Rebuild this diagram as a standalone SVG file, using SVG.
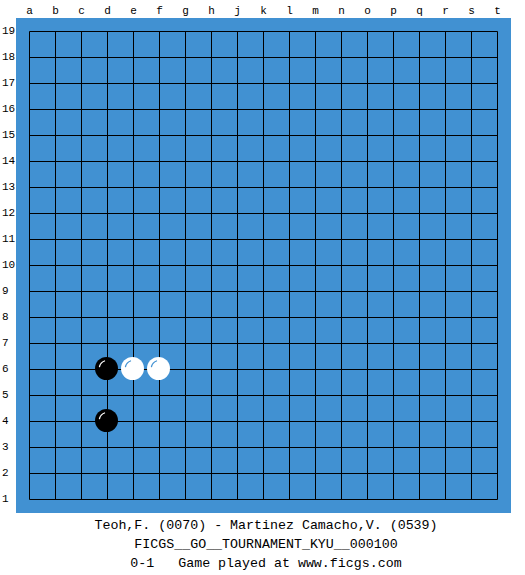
<svg xmlns="http://www.w3.org/2000/svg" width="525" height="575" viewBox="0 0 525 575">
<style>
.lbl{font-family:"Liberation Mono","DejaVu Sans Mono",monospace;font-size:11px;fill:#000}
.col{text-anchor:middle}
.grid line{stroke:#000;stroke-width:1}
.cap{font-family:"Liberation Mono","DejaVu Sans Mono",monospace;font-size:13.3px;fill:#000;text-anchor:middle}
.hl{fill:none;stroke-width:1.3;stroke-linecap:round}
</style>
<defs>
<g id="bs"><circle r="11.5" fill="#000"/><path class="hl" d="M-7,-2 A8,8 0 0 1 -2,-7.5" stroke="#fff"/></g>
<g id="ws"><circle r="11.5" fill="#fff"/><path class="hl" d="M-7,-2 A8,8 0 0 1 -2,-7.5" stroke="#4191d2"/></g>
</defs>
<rect width="525" height="575" fill="#fff"/>
<g id="board">
<rect x="16" y="18" width="495" height="495" fill="#4191d2"/>
<g class="grid">
<line x1="29.5" y1="31.5" x2="29.5" y2="499.5"/><line x1="55.5" y1="31.5" x2="55.5" y2="499.5"/><line x1="81.5" y1="31.5" x2="81.5" y2="499.5"/><line x1="107.5" y1="31.5" x2="107.5" y2="499.5"/><line x1="133.5" y1="31.5" x2="133.5" y2="499.5"/><line x1="159.5" y1="31.5" x2="159.5" y2="499.5"/><line x1="185.5" y1="31.5" x2="185.5" y2="499.5"/><line x1="211.5" y1="31.5" x2="211.5" y2="499.5"/><line x1="237.5" y1="31.5" x2="237.5" y2="499.5"/><line x1="263.5" y1="31.5" x2="263.5" y2="499.5"/><line x1="289.5" y1="31.5" x2="289.5" y2="499.5"/><line x1="315.5" y1="31.5" x2="315.5" y2="499.5"/><line x1="341.5" y1="31.5" x2="341.5" y2="499.5"/><line x1="367.5" y1="31.5" x2="367.5" y2="499.5"/><line x1="393.5" y1="31.5" x2="393.5" y2="499.5"/><line x1="419.5" y1="31.5" x2="419.5" y2="499.5"/><line x1="445.5" y1="31.5" x2="445.5" y2="499.5"/><line x1="471.5" y1="31.5" x2="471.5" y2="499.5"/><line x1="497.5" y1="31.5" x2="497.5" y2="499.5"/>
<line x1="29.5" y1="31.5" x2="497.5" y2="31.5"/><line x1="29.5" y1="57.5" x2="497.5" y2="57.5"/><line x1="29.5" y1="83.5" x2="497.5" y2="83.5"/><line x1="29.5" y1="109.5" x2="497.5" y2="109.5"/><line x1="29.5" y1="135.5" x2="497.5" y2="135.5"/><line x1="29.5" y1="161.5" x2="497.5" y2="161.5"/><line x1="29.5" y1="187.5" x2="497.5" y2="187.5"/><line x1="29.5" y1="213.5" x2="497.5" y2="213.5"/><line x1="29.5" y1="239.5" x2="497.5" y2="239.5"/><line x1="29.5" y1="265.5" x2="497.5" y2="265.5"/><line x1="29.5" y1="291.5" x2="497.5" y2="291.5"/><line x1="29.5" y1="317.5" x2="497.5" y2="317.5"/><line x1="29.5" y1="343.5" x2="497.5" y2="343.5"/><line x1="29.5" y1="369.5" x2="497.5" y2="369.5"/><line x1="29.5" y1="395.5" x2="497.5" y2="395.5"/><line x1="29.5" y1="421.5" x2="497.5" y2="421.5"/><line x1="29.5" y1="447.5" x2="497.5" y2="447.5"/><line x1="29.5" y1="473.5" x2="497.5" y2="473.5"/><line x1="29.5" y1="499.5" x2="497.5" y2="499.5"/>
</g>
</g>
<g id="col-labels" class="lbl col">
<text x="29.5" y="14">a</text><text x="55.5" y="14">b</text><text x="81.5" y="14">c</text><text x="107.5" y="14">d</text><text x="133.5" y="14">e</text><text x="159.5" y="14">f</text><text x="185.5" y="14">g</text><text x="211.5" y="14">h</text><text x="237.5" y="14">j</text><text x="263.5" y="14">k</text><text x="289.5" y="14">l</text><text x="315.5" y="14">m</text><text x="341.5" y="14">n</text><text x="367.5" y="14">o</text><text x="393.5" y="14">p</text><text x="419.5" y="14">q</text><text x="445.5" y="14">r</text><text x="471.5" y="14">s</text><text x="497.5" y="14">t</text>
</g>
<g id="row-labels" class="lbl">
<text x="2" y="34">19</text><text x="2" y="60">18</text><text x="2" y="86">17</text><text x="2" y="112">16</text><text x="2" y="138">15</text><text x="2" y="164">14</text><text x="2" y="190">13</text><text x="2" y="216">12</text><text x="2" y="242">11</text><text x="2" y="268">10</text><text x="2" y="294">9</text><text x="2" y="320">8</text><text x="2" y="346">7</text><text x="2" y="372">6</text><text x="2" y="398">5</text><text x="2" y="424">4</text><text x="2" y="450">3</text><text x="2" y="476">2</text><text x="2" y="502">1</text>
</g>
<g id="stones">
<use id="d6" href="#bs" x="106.5" y="368.5"/>
<use id="e6" href="#ws" x="132.5" y="368.5"/>
<use id="f6" href="#ws" x="158.5" y="368.5"/>
<use id="d4" href="#bs" x="106.5" y="420.5"/>
</g>
<g id="caption">
<text class="cap" x="266" y="529">Teoh,F. (0070) - Martinez Camacho,V. (0539)</text>
<text class="cap" x="266" y="548">FICGS__GO__TOURNAMENT_KYU__000100</text>
<text class="cap" x="266" y="567" xml:space="preserve">0-1   Game played at www.ficgs.com</text>
</g>
</svg>
